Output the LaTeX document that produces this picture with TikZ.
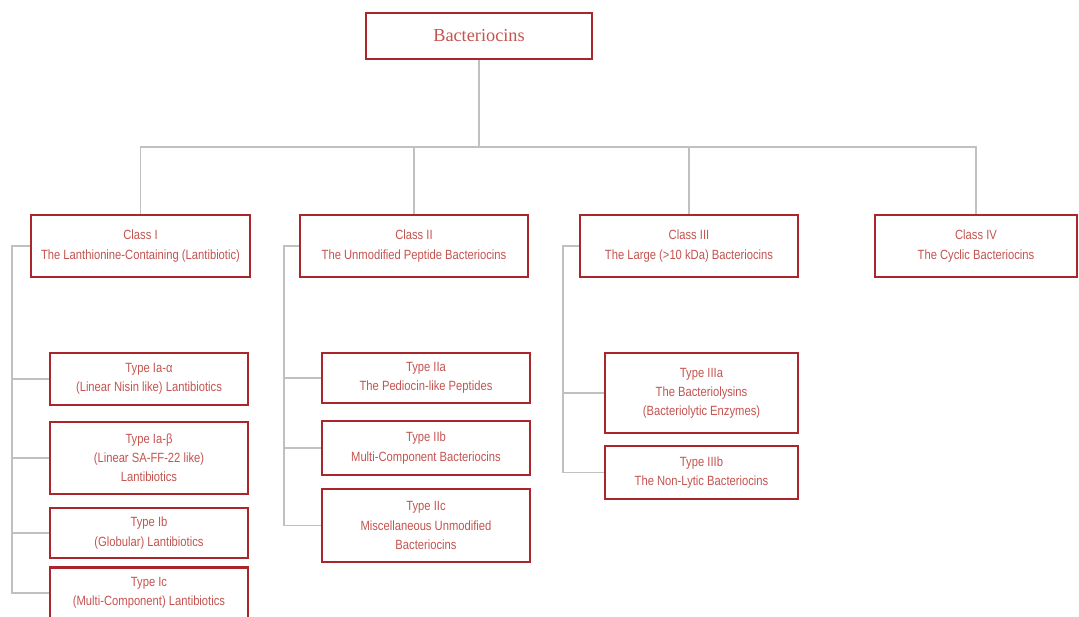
\documentclass[tikz,border=0pt]{standalone}
\usepackage{fontspec}
\newfontfamily\boxfont[FakeStretch=0.84]{Liberation Sans}
\newfontfamily\rootfont{Liberation Serif}
\definecolor{boxred}{RGB}{170,38,42}
\definecolor{txtred}{RGB}{196,84,80}
\definecolor{linkgray}{RGB}{192,192,192}
\begin{document}
\begin{tikzpicture}[x=0.025cm, y=-0.025cm,
  box/.style={draw=boxred, line width=1.7pt, fill=white, align=center, text=txtred,
    font=\boxfont\fontsize{9.5}{13.6}\selectfont, inner sep=0pt},
  link/.style={draw=linkgray, line width=1.3pt}]
\useasboundingbox (0,0) rectangle (1079,617);

\node (root) [box, minimum width=5.65cm, minimum height=1.15cm, font=\rootfont\fontsize{13}{15}\selectfont] at (479,36) {Bacteriocins};

\node (c1) [box, minimum width=5.475cm, minimum height=1.55cm] at (140.5,246) {Class I \\ The Lanthionine-Containing (Lantibiotic)};
\node (c2) [box, minimum width=5.7cm, minimum height=1.55cm] at (414,246) {Class II \\ The Unmodified Peptide Bacteriocins};
\node (c3) [box, minimum width=5.45cm, minimum height=1.55cm] at (689,246) {Class III \\ The Large (>10 kDa) Bacteriocins};
\node (c4) [box, minimum width=5.05cm, minimum height=1.55cm] at (976,246) {Class IV \\ The Cyclic Bacteriocins};

\node (ia) [box, minimum width=4.95cm, minimum height=1.3cm] at (149,379) {Type Ia-α \\ (Linear Nisin like) Lantibiotics};
\node (ib) [box, minimum width=4.95cm, minimum height=1.8cm] at (149,458) {Type Ia-β \\ (Linear SA-FF-22 like) \\ Lantibiotics};
\node (ic) [box, minimum width=4.95cm, minimum height=1.25cm] at (149,533) {Type Ib \\ (Globular) Lantibiotics};
\node (id) [box, minimum width=4.95cm, minimum height=1.28cm] at (149,593) {Type Ic \\ (Multi-Component) Lantibiotics};

\node (iia) [box, minimum width=5.2cm, minimum height=1.25cm] at (426,378) {Type IIa \\ The Pediocin-like Peptides};
\node (iib) [box, minimum width=5.2cm, minimum height=1.35cm] at (426,448) {Type IIb \\ Multi-Component Bacteriocins};
\node (iic) [box, minimum width=5.2cm, minimum height=1.82cm] at (426,525.5) {Type IIc \\ Miscellaneous Unmodified \\ Bacteriocins};

\node (iiia) [box, minimum width=4.82cm, minimum height=2cm] at (701.5,393) {Type IIIa \\ The Bacteriolysins \\ (Bacteriolytic Enzymes)};
\node (iiib) [box, minimum width=4.82cm, minimum height=1.32cm] at (701.5,472.5) {Type IIIb \\ The Non-Lytic Bacteriocins};

\coordinate (bus) at (479,147);

\draw [link] (root.south) -- (bus) -| (c1.north);
\draw [link] (bus) -| (c2.north);
\draw [link] (bus) -| (c3.north);
\draw [link] (bus) -| (c4.north);

\draw [link] (c1.west) -- ++(-18,0) |- (ia.west);
\draw [link] (c1.west) -- ++(-18,0) |- (ib.west);
\draw [link] (c1.west) -- ++(-18,0) |- (ic.west);
\draw [link] (c1.west) -- ++(-18,0) |- (id.west);

\draw [link] (c2.west) -- ++(-15,0) |- (iia.west);
\draw [link] (c2.west) -- ++(-15,0) |- (iib.west);
\draw [link] (c2.west) -- ++(-15,0) |- (iic.west);

\draw [link] (c3.west) -- ++(-16,0) |- (iiia.west);
\draw [link] (c3.west) -- ++(-16,0) |- (iiib.west);
\end{tikzpicture}
\end{document}
